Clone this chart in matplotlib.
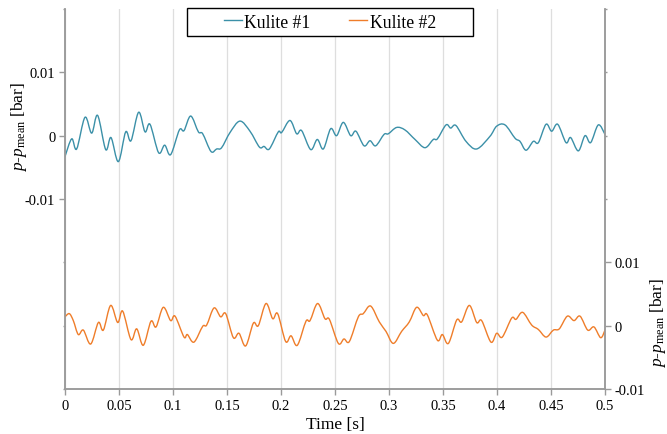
import matplotlib
matplotlib.use("Agg")
import matplotlib.pyplot as plt
from matplotlib.lines import Line2D
from matplotlib.path import Path
from matplotlib.patches import PathPatch, Rectangle

# ---- data ----
t1 = [0.0, 0.0062, 0.0108, 0.0185, 0.0247, 0.0302, 0.0377, 0.0426, 0.0494, 0.0562,
      0.0611, 0.0682, 0.0741, 0.0787, 0.0867, 0.0923, 0.0978, 0.1059, 0.1102, 0.1164,
      0.1235, 0.1275, 0.1352, 0.1404, 0.145, 0.1528, 0.162, 0.1713, 0.180, 0.1843,
      0.1892, 0.1975, 0.2006, 0.2083, 0.2145, 0.2191, 0.2275, 0.2336, 0.2392, 0.246,
      0.2515, 0.2577, 0.2645, 0.2694, 0.2769, 0.2824, 0.2877, 0.2954, 0.2994, 0.3071,
      0.3148, 0.3241, 0.3333, 0.341, 0.3448, 0.3528, 0.3571, 0.362, 0.3713, 0.3812,
      0.3935, 0.3997, 0.4074, 0.4167, 0.4213, 0.4269, 0.4336, 0.4383, 0.4454, 0.4506,
      0.4562, 0.4639, 0.4682, 0.4753, 0.4815, 0.4867, 0.4938, 0.5]
v1 = [-0.0033, -0.0005, -0.0021, 0.0029, 0.0004, 0.0032, -0.0022, -0.0003, -0.0041, 0.0006,
      -0.0008, 0.0037, 0.0006, 0.0018, -0.0027, -0.0015, -0.0030, 0.0009, 0.0008, 0.0031,
      0.0006, 0.0003, -0.0025, -0.0021, -0.0019, 0.0005, 0.0023, 0.0007, -0.0018, -0.0017,
      -0.0021, 0.0006, 0.0005, 0.0024, 0.0003, 0.0008, -0.0022, -0.0006, -0.0021, 0.0011,
      0.0000, 0.0021, 0.0000, 0.0007, -0.0016, -0.0008, -0.0016, 0.0002, 0.0003, 0.0013,
      0.0009, -0.0006, -0.0019, -0.0006, -0.0005, 0.0017, 0.0012, 0.0016, -0.0009, -0.0021,
      -0.0001, 0.0015, 0.0017, -0.0004, -0.0009, -0.0023, -0.0009, -0.0011, 0.0018, 0.0007,
      0.0018, -0.0011, -0.0003, -0.0024, 0.0000, -0.0011, 0.0017, 0.0002]

t2 = [0.0, 0.004, 0.0077, 0.0123, 0.017, 0.0238, 0.0309, 0.0355, 0.0423, 0.0488,
      0.0534, 0.0611, 0.0664, 0.0725, 0.0796, 0.0843, 0.091, 0.0978, 0.1019, 0.1102,
      0.1133, 0.1194, 0.1275, 0.1312, 0.138, 0.1441, 0.1488, 0.1559, 0.1611, 0.1673,
      0.1744, 0.179, 0.1861, 0.1923, 0.1969, 0.2043, 0.2093, 0.2151, 0.2231, 0.2269,
      0.2339, 0.2407, 0.2448, 0.2531, 0.2583, 0.2633, 0.2716, 0.2762, 0.2830, 0.291,
      0.2972, 0.304, 0.3117, 0.3188, 0.3256, 0.3318, 0.3355, 0.3448, 0.3494, 0.355,
      0.3627, 0.3673, 0.3744, 0.3812, 0.3858, 0.3944, 0.3997, 0.4049, 0.4136, 0.4176,
      0.4238, 0.4321, 0.4383, 0.4454, 0.4522, 0.4577, 0.4651, 0.4713, 0.4769, 0.484,
      0.4898, 0.496, 0.5]
v2 = [0.0014, 0.0019, 0.0008, -0.0014, -0.0007, -0.0029, 0.0005, -0.0007, 0.0032, 0.0005,
      0.0023, -0.0022, -0.0005, -0.0031, 0.0007, -0.0002, 0.0029, 0.0008, 0.0015, -0.0018,
      -0.0014, -0.0026, -0.0001, 0.0001, 0.0028, 0.0014, 0.0019, -0.0019, -0.0012, -0.0032,
      0.0004, 0.0000, 0.0035, 0.0011, 0.0019, -0.0025, -0.0016, -0.0031, 0.0007, 0.0008,
      0.0035, 0.0011, 0.0010, -0.0028, -0.0021, -0.0025, 0.0014, 0.0019, 0.0031, 0.0006,
      -0.0009, -0.0028, -0.0009, 0.0006, 0.0029, 0.0016, 0.0017, -0.0023, -0.0014, -0.0028,
      0.0009, 0.0006, 0.0032, 0.0005, 0.0008, -0.0026, -0.0012, -0.0018, 0.0012, 0.0010,
      0.0021, 0.0001, -0.0006, -0.0018, -0.0007, -0.0005, 0.0015, 0.0008, 0.0015, -0.0007,
      -0.0002, -0.0019, -0.0007]

series_names = ["Kulite #1", "Kulite #2"]
xticks = [0, 0.05, 0.1, 0.15, 0.2, 0.25, 0.3, 0.35, 0.4, 0.45, 0.5]
xticklabels = ["0", "0.05", "0.1", "0.15", "0.2", "0.25", "0.3", "0.35", "0.4", "0.45", "0.5"]
left_ticks = [-0.01, 0, 0.01]
right_ticks = [-0.01, 0, 0.01]
ytick_labels = ["-0.01", "0", "0.01"]

# ---- style ----
plt.rcParams['font.family'] = ['Liberation Serif', 'DejaVu Serif']
plt.rcParams['mathtext.fontset'] = 'custom'
plt.rcParams['mathtext.rm'] = 'Liberation Serif'
plt.rcParams['mathtext.it'] = 'Liberation Serif:italic'

c1 = "#3b90a8"
c2 = "#ef7d2a"
spine_c = "#9a9a9a"
LW = 1.0


def smooth_line(ax, xs, ys, color):
    """Draw a smoothed line through the data points (spreadsheet-style smoothing)."""
    n = len(xs)
    verts = [(xs[0], ys[0])]
    codes = [Path.MOVETO]
    for i in range(n - 1):
        i0 = max(i - 1, 0)
        i3 = min(i + 2, n - 1)
        c1x = xs[i] + (xs[i + 1] - xs[i0]) / 6.0
        c1y = ys[i] + (ys[i + 1] - ys[i0]) / 6.0
        c2x = xs[i + 1] - (xs[i3] - xs[i]) / 6.0
        c2y = ys[i + 1] - (ys[i3] - ys[i]) / 6.0
        verts += [(c1x, c1y), (c2x, c2y), (xs[i + 1], ys[i + 1])]
        codes += [Path.CURVE4, Path.CURVE4, Path.CURVE4]
    patch = PathPatch(Path(verts, codes), facecolor='none', edgecolor=color,
                      lw=LW, transform=ax.transData, capstyle='round', joinstyle='round')
    ax.add_patch(patch)


fig = plt.figure(figsize=(6.67, 4.35), dpi=100)
ax1 = fig.add_axes([65/667, 1-390/435, 540/667, 380/435])
ax2 = ax1.twinx()

smooth_line(ax1, t1, v1, c1)
smooth_line(ax2, t2, v2, c2)

ax1.set_xlim(0, 0.5)
ax1.set_ylim(-0.04, 0.02)
ax2.set_ylim(-0.01, 0.05)

ax1.set_xticks(xticks)
ax1.set_xticklabels(xticklabels, fontsize=10.5)
ax1.set_yticks(left_ticks)
ax1.set_yticklabels(ytick_labels, fontsize=10.5)
ax1.set_yticks([-0.04, -0.03, -0.02, 0.02], minor=True)
ax2.set_yticks(right_ticks)
ax2.set_yticklabels(ytick_labels, fontsize=10.5)
ax2.set_yticks([0.02, 0.03, 0.04, 0.05], minor=True)

for ax in (ax1, ax2):
    for s in ax.spines.values():
        s.set_color(spine_c)
        s.set_linewidth(1.1)
    ax.spines['top'].set_visible(False)
    ax.tick_params(which='major', length=4, width=1, color=spine_c, pad=3)
    ax.tick_params(which='minor', length=1.5, width=1, color=spine_c)

ax1.xaxis.grid(True, color="#dedede", lw=0.9)
ax1.set_axisbelow(True)

ax1.set_xlabel("Time [s]", fontsize=12.5, labelpad=3)
ylab = r"$p$-$p_{\mathrm{mean}}$ [bar]"
ax1.set_ylabel(ylab, fontsize=12.5, rotation=90, va='center', ha='center')
ax2.set_ylabel(ylab, fontsize=12.5, rotation=90, va='center', ha='center')
ax1.yaxis.set_label_coords((19 - 65) / 540, (390 - 127) / 380)
ax2.yaxis.set_label_coords((658 - 65) / 540, (390 - 323) / 380)

# legend: box drawn as a figure rectangle, entries centred in it
fig.patches.append(Rectangle((187/667, 1-37/435), 286/667, 28/435, transform=fig.transFigure,
                             facecolor='white', edgecolor='black', lw=1.0, zorder=5))
handles = [Line2D([], [], color=c1, lw=LW), Line2D([], [], color=c2, lw=LW)]
leg = fig.legend(handles, series_names, loc='center', bbox_to_anchor=(330/667, 1-23/435),
                 ncol=2, fontsize=12.7, frameon=False, handlelength=1.02,
                 handletextpad=0.12, columnspacing=2.2, borderpad=0.0)
leg.set_zorder(6)

fig.savefig("out.png", dpi=100)
